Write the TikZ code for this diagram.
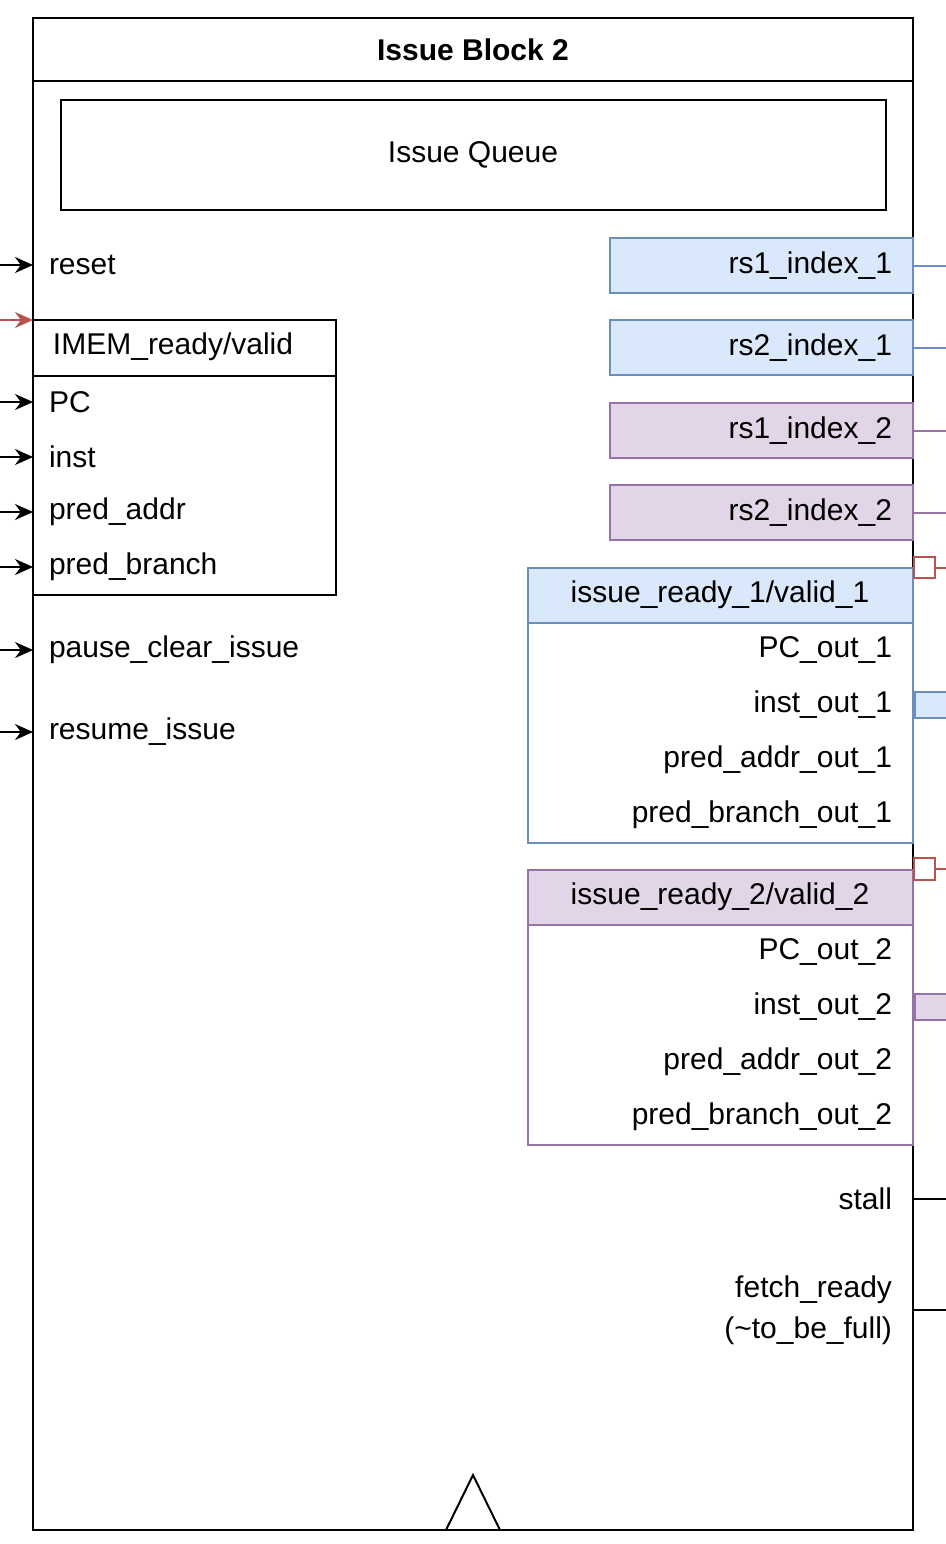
\documentclass[tikz,border=0pt]{standalone}
\usepackage{fontspec}
\setmainfont{Liberation Sans}
\usetikzlibrary{arrows.meta}
\definecolor{bf}{HTML}{DAE8FC}\definecolor{bs}{HTML}{6C8EBF}
\definecolor{pf}{HTML}{E1D5E7}\definecolor{ps}{HTML}{9673A6}
\definecolor{rs}{HTML}{B85450}
\begin{document}
\begin{tikzpicture}[x=0.5pt,y=-0.5pt,line width=1pt,
  t/.style={font=\fontsize{15}{18}\selectfont,inner sep=0},
  l/.style={t,anchor=west},r/.style={t,anchor=east},
  ar/.style={-{Stealth[length=9pt,width=8pt]},line width=1pt},
  blu/.style={draw=bs,fill=bf},pur/.style={draw=ps,fill=pf}]
\useasboundingbox (0,0) rectangle (946,1544);
\draw (33,18) rectangle (913,1530);
\draw (33,81) -- (913,81);
\node[t,font=\fontsize{15}{18}\selectfont\bfseries] (title) at (473,50) {Issue Block 2};
\draw (61,100) rectangle (886,210);
\node[t] (iq) at (473,155) {Issue Queue};
% left inputs
\coordinate (ai1) at (0,265); \coordinate (ab1) at (33,265);
\draw[ar] (ai1) -- (ab1); \node[l] (reset) at (48,265) {reset};
\coordinate (ai2) at (0,320); \coordinate (ab2) at (33,320);
\draw[ar,draw=rs,fill=rs] (ai2) -- (ab2);
\draw (33,320) rectangle (336,595); \draw (33,376) -- (336,376);
\node[l] (imem) at (52,347) {IMEM\_ready/valid};
\foreach \y/\s/\n in {402/PC/pc,457/inst/inst,512/pred\_addr/pa,567/pred\_branch/pb,650/pause\_clear\_issue/pci,732/resume\_issue/ri}{
  \coordinate (a\n) at (0,\y); \coordinate (b\n) at (33,\y);
  \draw[ar] (a\n) -- (b\n); \node[l] (\n) at (48,\y) {\s};}
% rs boxes
\foreach \y/\s/\st/\n in {238/rs1\_index\_1/blu/r1,320/rs2\_index\_1/blu/r2,403/rs1\_index\_2/pur/r3,485/rs2\_index\_2/pur/r4}{
  \draw[\st] (610,\y) rectangle (913,\y+55);
  \node[r] (\n) at (893,\y+27.5) {\s};
  \coordinate (e\n) at (946,\y+27.5); \coordinate (s\n) at (913,\y+27.5);
  \draw[\st,fill=none] (s\n) -- (e\n);}
% issue box 1
\draw[bs] (528,568) rectangle (913,843);
\draw[blu] (528,568) rectangle (913,623);
\node[t] (h1) at (720,595) {issue\_ready\_1/valid\_1};
\node[r] (pc1) at (893,650) {PC\_out\_1};
\node[r] (in1) at (893,705) {inst\_out\_1};
\node[r] (pa1) at (893,760) {pred\_addr\_out\_1};
\node[r] (pb1) at (893,815) {pred\_branch\_out\_1};
\draw[rs] (914,557) rectangle (935,578); \draw[rs] (935,567.5) -- (946,567.5);
\draw[blu] (915,692) rectangle (950,718);
% issue box 2
\draw[ps] (528,870) rectangle (913,1145);
\draw[pur] (528,870) rectangle (913,925);
\node[t] (h2) at (720,897) {issue\_ready\_2/valid\_2};
\node[r] (pc2) at (893,952) {PC\_out\_2};
\node[r] (in2) at (893,1007) {inst\_out\_2};
\node[r] (pa2) at (893,1062) {pred\_addr\_out\_2};
\node[r] (pb2) at (893,1117) {pred\_branch\_out\_2};
\draw[rs] (914,858) rectangle (935,880); \draw[rs] (935,869) -- (946,869);
\draw[pur] (915,994) rectangle (950,1020);
% outputs
\node[r] (stall) at (893,1199) {stall};
\draw (913,1199) -- (946,1199);
\node[t,align=right,anchor=east,font=\fontsize{15}{20.5}\selectfont] (fr) at (893,1310) {fetch\_ready\\(\textasciitilde to\_be\_full)};
\draw (913,1310) -- (946,1310);
\draw (446,1530) -- (473,1475) -- (500,1530);
\end{tikzpicture}
\end{document}
